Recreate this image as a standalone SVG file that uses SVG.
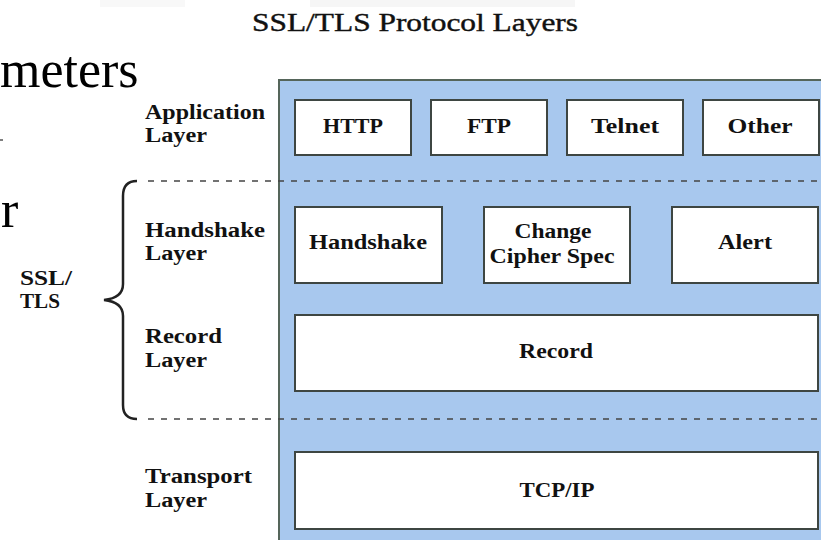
<svg xmlns="http://www.w3.org/2000/svg" width="821" height="540" viewBox="0 0 821 540">
<style>
.lbl{font-family:"Liberation Serif","Times New Roman",serif;font-weight:bold;font-size:20px;fill:#111}
.box{fill:#ffffff;stroke:#3e4642;stroke-width:2}
.bt{font-family:"Liberation Serif","Times New Roman",serif;font-weight:bold;font-size:20px;fill:#111;text-anchor:middle}
.dash{stroke:#444;stroke-width:1.6;stroke-dasharray:6 7;fill:none}
.big{font-family:"Liberation Serif","Times New Roman",serif;font-size:52px;fill:#000}
</style>
<rect width="821" height="540" fill="#ffffff"/>
<rect x="100" y="0" width="85" height="7" fill="#f8f8f8"/>
<rect x="310" y="0" width="265" height="7" fill="#f6f6f6"/>
<text class="big" x="0" y="87">meters</text>
<text class="big" x="1" y="227">r</text>
<line x1="0" y1="140" x2="3" y2="140" stroke="#555" stroke-width="1.5"/>
<text x="252" y="31" font-family="Liberation Serif, Times New Roman, serif" font-size="26" fill="#111" stroke="#111" stroke-width="0.4" textLength="326" lengthAdjust="spacingAndGlyphs">SSL/TLS Protocol Layers</text>
<g id="panel">
<rect x="279" y="80" width="560" height="480" fill="#a8c8ee" stroke="#55655a" stroke-width="2"/>
</g>
<g id="connectors">
<line class="dash" x1="148" y1="181" x2="821" y2="181"/>
<line class="dash" x1="148" y1="419" x2="821" y2="419"/>
<path d="M137,181 Q123,181 123,196 L123,284 Q123,298 104,300 Q123,302 123,316 L123,405 Q123,419 137,419" fill="none" stroke="#222" stroke-width="2.5"/>
</g>
<g id="labels">
<text class="lbl" x="145" y="119" textLength="120" lengthAdjust="spacingAndGlyphs">Application</text>
<text class="lbl" x="145" y="142" textLength="62" lengthAdjust="spacingAndGlyphs">Layer</text>
<text class="lbl" x="145" y="237" textLength="120" lengthAdjust="spacingAndGlyphs">Handshake</text>
<text class="lbl" x="145" y="260" textLength="62" lengthAdjust="spacingAndGlyphs">Layer</text>
<text class="lbl" x="145" y="343" textLength="77" lengthAdjust="spacingAndGlyphs">Record</text>
<text class="lbl" x="145" y="367" textLength="62" lengthAdjust="spacingAndGlyphs">Layer</text>
<text class="lbl" x="145" y="483" textLength="107" lengthAdjust="spacingAndGlyphs">Transport</text>
<text class="lbl" x="145" y="507" textLength="62" lengthAdjust="spacingAndGlyphs">Layer</text>
<text class="lbl" x="20" y="285" textLength="52" lengthAdjust="spacingAndGlyphs">SSL/</text>
<text class="lbl" x="20" y="308" textLength="40" lengthAdjust="spacingAndGlyphs">TLS</text>
</g>
<g id="http"><rect class="box" x="295" y="100" width="116" height="55"/><text class="bt" x="353" y="133" textLength="60" lengthAdjust="spacingAndGlyphs">HTTP</text></g>
<g id="ftp"><rect class="box" x="431" y="100" width="116" height="55"/><text class="bt" x="489" y="133" textLength="44" lengthAdjust="spacingAndGlyphs">FTP</text></g>
<g id="telnet"><rect class="box" x="567" y="100" width="116" height="55"/><text class="bt" x="625" y="133" textLength="68" lengthAdjust="spacingAndGlyphs">Telnet</text></g>
<g id="other"><rect class="box" x="703" y="100" width="116" height="55"/><text class="bt" x="760" y="133" textLength="65" lengthAdjust="spacingAndGlyphs">Other</text></g>
<g id="handshake"><rect class="box" x="295" y="207" width="147" height="76"/><text class="bt" x="368" y="249" textLength="118" lengthAdjust="spacingAndGlyphs">Handshake</text></g>
<g id="ccs"><rect class="box" x="484" y="207" width="146" height="76"/><text class="bt" x="553" y="238" textLength="77" lengthAdjust="spacingAndGlyphs">Change</text><text class="bt" x="552" y="263" textLength="125" lengthAdjust="spacingAndGlyphs">Cipher Spec</text></g>
<g id="alert"><rect class="box" x="672" y="207" width="146" height="76"/><text class="bt" x="745" y="249" textLength="54" lengthAdjust="spacingAndGlyphs">Alert</text></g>
<g id="record"><rect class="box" x="295" y="315" width="523" height="76"/><text class="bt" x="556" y="358" textLength="74" lengthAdjust="spacingAndGlyphs">Record</text></g>
<g id="tcpip"><rect class="box" x="295" y="452" width="523" height="77"/><text class="bt" x="557" y="497" textLength="75" lengthAdjust="spacingAndGlyphs">TCP/IP</text></g>
</svg>
